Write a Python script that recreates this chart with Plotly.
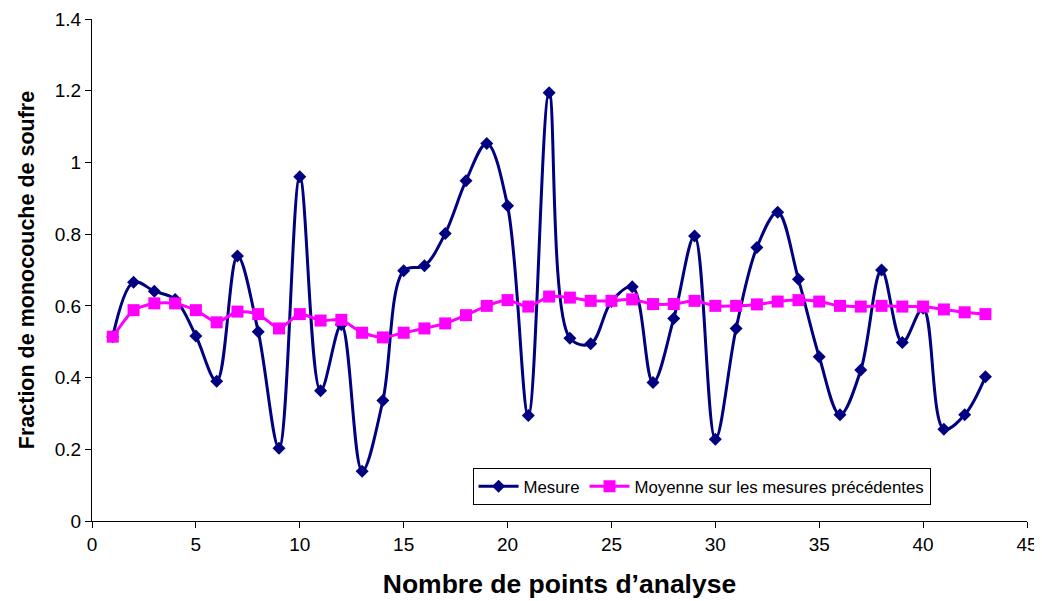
import plotly.graph_objects as go

points = list(range(1, 44))
mesure = [0.514, 0.666, 0.641, 0.618, 0.516, 0.39, 0.739, 0.528, 0.203, 0.96,
          0.363, 0.547, 0.139, 0.336, 0.698, 0.712, 0.802, 0.949, 1.053, 0.879,
          0.294, 1.194, 0.51, 0.494, 0.612, 0.653, 0.386, 0.565, 0.795, 0.228,
          0.537, 0.763, 0.861, 0.674, 0.458, 0.296, 0.421, 0.70, 0.498, 0.593,
          0.256, 0.296, 0.402]
moyenne = [0.514, 0.588, 0.607, 0.607, 0.588, 0.554, 0.584, 0.577, 0.537, 0.577,
           0.559, 0.561, 0.525, 0.512, 0.525, 0.537, 0.551, 0.574, 0.600, 0.616,
           0.598, 0.626, 0.623, 0.614, 0.614, 0.618, 0.605, 0.605, 0.614, 0.600,
           0.600, 0.604, 0.612, 0.616, 0.612, 0.600, 0.598, 0.600, 0.598, 0.598,
           0.590, 0.582, 0.577]

fig = go.Figure()
fig.add_trace(go.Scatter(
    x=points, y=mesure, name="Mesure", mode="lines+markers",
    line=dict(color="#000080", width=3, shape="spline", smoothing=1),
    marker=dict(symbol="diamond", size=10, color="#000080"),
))
fig.add_trace(go.Scatter(
    x=points, y=moyenne, name="Moyenne sur les mesures précédentes", mode="lines+markers",
    line=dict(color="#FF00FF", width=3, shape="spline", smoothing=0.6),
    marker=dict(symbol="square", size=12, color="#FF00FF"),
))

font = "Liberation Sans, Arial, sans-serif"
fig.update_layout(
    width=1034, height=593,
    margin=dict(l=84, r=15, t=11, b=80),
    paper_bgcolor="white", plot_bgcolor="white",
    font=dict(family=font, size=19, color="black"),
    xaxis=dict(
        range=[0, 45], tick0=0, dtick=5, showgrid=False, zeroline=False,
        showline=True, linecolor="black", linewidth=1,
        ticks="outside", ticklen=6, tickcolor="black",
        tickfont=dict(size=19), automargin=False, ticklabeloverflow="allow",
        title=dict(text="<b>Nombre de points d’analyse</b>", font=dict(size=26.5), standoff=20),
    ),
    yaxis=dict(
        range=[0, 1.4], tick0=0, dtick=0.2, showgrid=False, zeroline=False,
        showline=True, linecolor="black", linewidth=1,
        ticks="outside", ticklen=6, tickcolor="black",
        tickfont=dict(size=19), automargin=False,
        title=dict(text="<b>Fraction de monocouche de soufre</b>", font=dict(size=21.5), standoff=14),
    ),
    legend=dict(
        orientation="h", x=0.407, y=0.106, xanchor="left", yanchor="top",
        bordercolor="black", borderwidth=1, bgcolor="white",
        font=dict(size=16.8), itemwidth=40,
    ),
)

fig.write_html("out.html")
